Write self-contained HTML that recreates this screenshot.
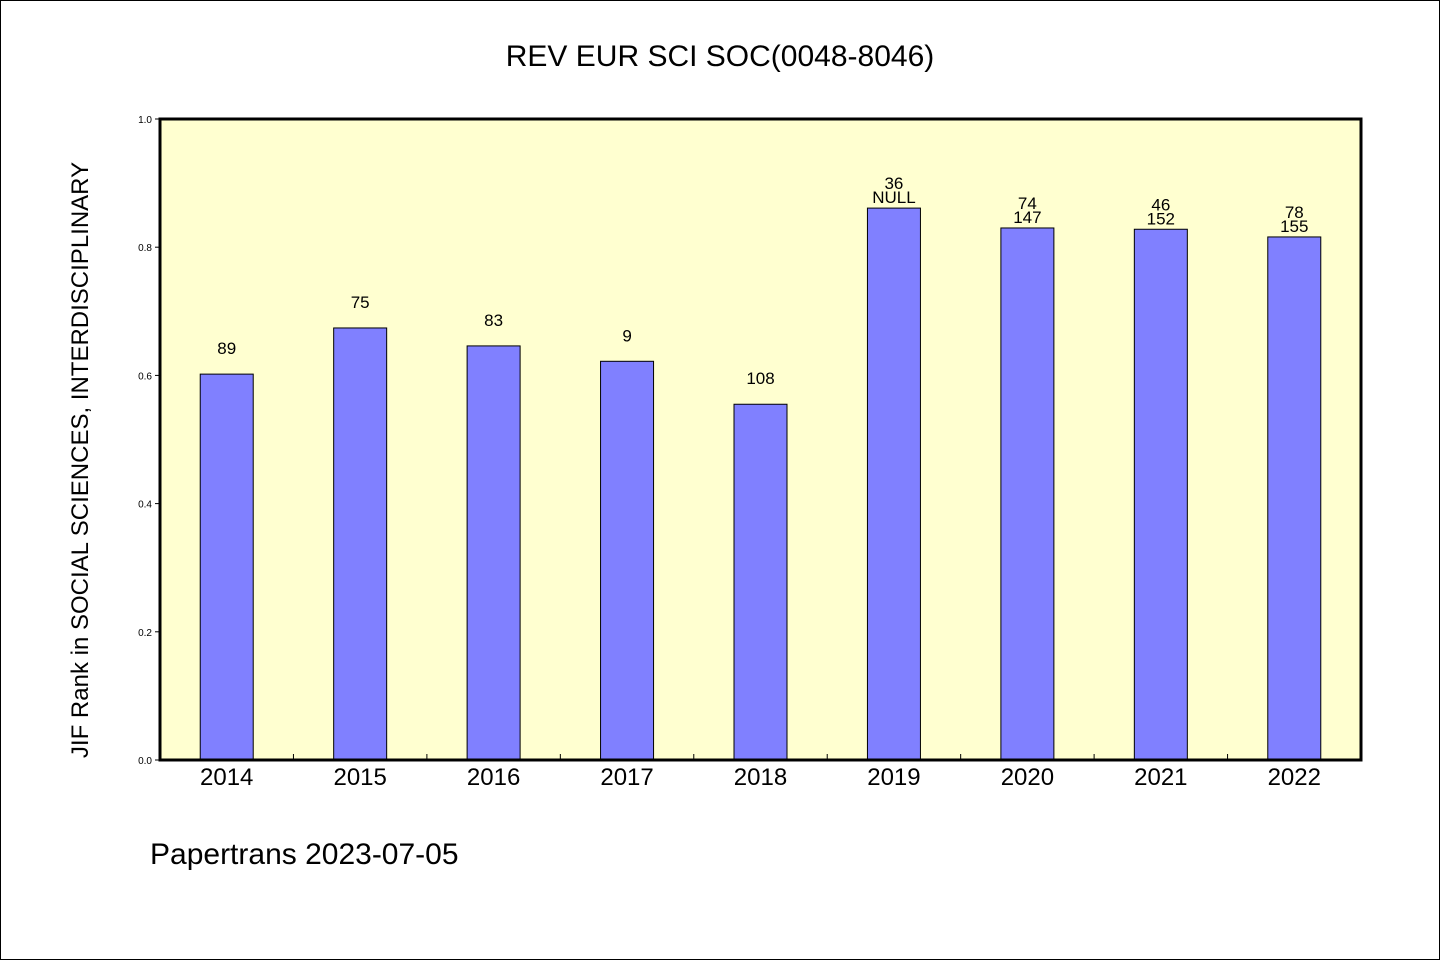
<!DOCTYPE html>
<html><head><meta charset="utf-8"><style>
body{margin:0;background:#fff}
svg text{font-family:"Liberation Sans","WenQuanYi Zen Hei",sans-serif;fill:#000}
</style></head><body>
<svg width="1440" height="960" viewBox="0 0 1440 960" xmlns="http://www.w3.org/2000/svg">
<rect x="0.5" y="0.5" width="1439" height="959" fill="#fff" stroke="#000"/>
<text x="720" y="66" font-size="30" text-anchor="middle">REV EUR SCI SOC(0048-8046)</text>
<rect x="160" y="119" width="1201" height="641" fill="#ffffd0"/>
<g id="bars"></g>
<g id="ticks"></g>
<rect x="160" y="119" width="1201" height="641" fill="none" stroke="#000" stroke-width="3"/>
<text transform="translate(88,460) rotate(-90)" font-size="24" text-anchor="middle">JIF Rank in SOCIAL SCIENCES, INTERDISCIPLINARY</text>
<text x="150" y="864" font-size="30">Papertrans 2023-07-05</text>
<script>
const categories=["2014","2015","2016","2017","2018","2019","2020","2021","2022"];
const values=[0.602,0.674,0.646,0.622,0.555,0.861,0.830,0.828,0.816];
const topLabels=["","","","","","36","74","46","78"];
const mainLabels=["89","75","83","9","108","NULL","147","152","155"];
const yTicks=[0,0.2,0.4,0.6,0.8,1.0];
const NS="http://www.w3.org/2000/svg";
const X0=160,W=1201,Y0=760,H=641,n=categories.length,bw=W/n;
const y=v=>Y0-v*H, xc=i=>X0+bw*(i+0.5);
const g=document.getElementById('bars'),tg=document.getElementById('ticks');
function mk(t,a,p){const e=document.createElementNS(NS,t);for(const k in a)e.setAttribute(k,a[k]);p.appendChild(e);return e;}
values.forEach((v,i)=>{
 const r=mk('rect',{x:xc(i)-26.5,y:y(v),width:53,height:Y0-y(v),fill:'#8080ff',stroke:'#000','stroke-width':1},g);
 
 
 const two=topLabels[i]!=="";
 const t=mk('text',{x:xc(i),y:two?y(v)-5:y(v)-20,'font-size':17,'text-anchor':'middle'},g);t.textContent=mainLabels[i];
 
 
 if(two){const t2=mk('text',{x:xc(i),y:y(v)-19,'font-size':17,'text-anchor':'middle'},g);t2.textContent=topLabels[i];
 
 }
 const xl=mk('text',{x:xc(i),y:785,'font-size':24,'text-anchor':'middle'},tg);xl.textContent=categories[i];
 
 
 if(i>0){const l=mk('line',{x1:X0+bw*i,x2:X0+bw*i,y1:Y0,y2:Y0-6,stroke:'#000'},tg);
 
 }
});
yTicks.forEach(v=>{
 const l=mk('line',{x1:X0-5,x2:X0,y1:y(v),y2:y(v),stroke:'#000'},tg);
 
 
 const t=mk('text',{x:X0-8,y:y(v)+4,'font-size':10,'text-anchor':'end'},tg);t.textContent=v.toFixed(1);
 
 
});
</script>
</svg>
</body></html>
